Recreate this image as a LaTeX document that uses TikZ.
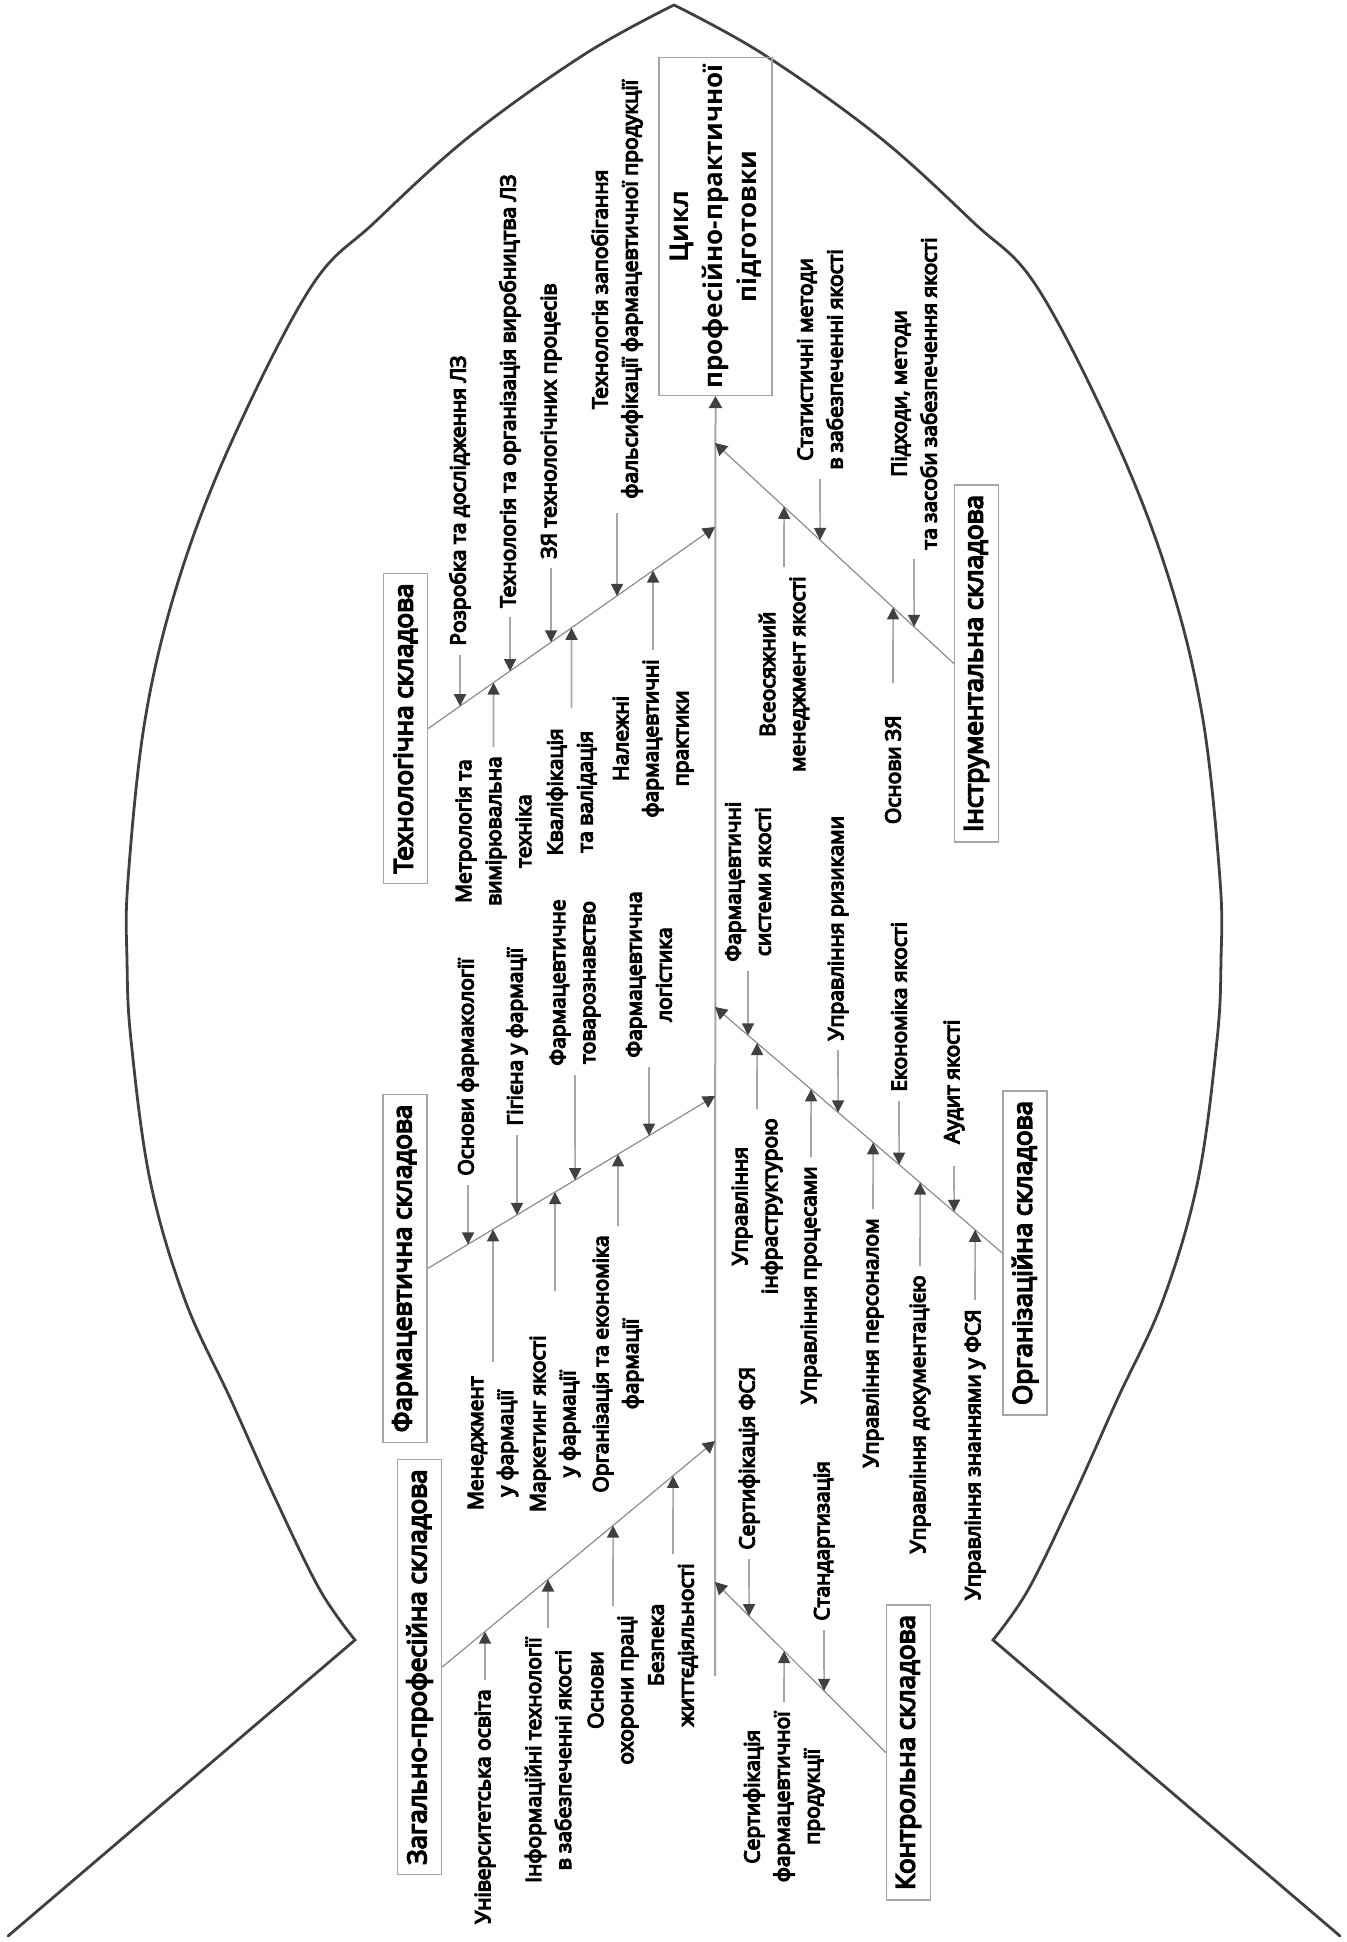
\documentclass[tikz,border=0pt]{standalone}
\usepackage{fontspec}
\setmainfont{Open Sans}
\newfontfamily\lblfont{Open Sans}[FakeBold=6]
\usetikzlibrary{arrows.meta}
\definecolor{outline}{HTML}{404040}
\definecolor{bonegray}{HTML}{8C8C8C}
\definecolor{spinegray}{HTML}{A6A6A6}
\definecolor{tipgray}{HTML}{404040}
\definecolor{framegray}{HTML}{A6A6A6}
\tikzset{
  fish/.style   ={draw=outline, line width=1.4pt, line cap=round, line join=miter},
  spine/.style  ={draw=spinegray, line width=1pt, -{Triangle[length=6pt,width=6.5pt,color=tipgray]}},
  bone/.style   ={draw=bonegray, line width=.6pt, -{Triangle[length=6pt,width=6.5pt,color=tipgray]}},
  sub/.style    ={draw=spinegray, line width=.8pt, -{Triangle[length=6pt,width=6pt,color=tipgray]}},
  lbl/.style    ={rotate=90, align=center, inner xsep=4.5pt, inner ysep=0pt, font=\lblfont\fontsize{10.5}{15}\selectfont},
  cat/.style    ={draw=framegray, line width=.7pt, rotate=90, inner xsep=5pt, minimum height=22pt, font=\lblfont\fontsize{13}{16}\selectfont},
  headbox/.style={draw=framegray, line width=.7pt, rotate=90, align=center, minimum width=159.5pt, minimum height=56.5pt, font=\bfseries\fontsize{13}{17}\selectfont},
}

\begin{document}
\begin{tikzpicture}[x=0.5pt,y=-0.5pt]
  \useasboundingbox (0,0) rectangle (1346,1942);

  % fish outline
  \draw[fish] (8,1936) -- plot[smooth,tension=.6] coordinates {(355,1640) (320,1590) (276,1500) (231,1400) (185,1300) (150,1180) (131,1040) (127,960) (128,880) (145,720) (178,582) (231,443) (311,287) (375,222) (470,136) (585,54) (674,5)};
  \draw[fish] plot[smooth,tension=.6] coordinates {(674,5) (763,54) (878,136) (973,222) (1037,287) (1117,443) (1170,582) (1203,720) (1220,880) (1221,960) (1217,1040) (1198,1180) (1163,1300) (1117,1400) (1072,1500) (1028,1590) (993,1640)} -- (1340,1936);

  % head and spine
  \node[headbox] (head) at (715.5,226.5) {Цикл\\професійно-практичної\\підготовки};
  \coordinate (tail) at (715,1676);
  \draw[spine] (tail) -- (head.west);

  % components
  \node[cat] (tech)  at (405.5,728.5)  {Технологічна складова};
  \node[cat] (instr) at (976.5,663.5)  {Інструментальна складова};
  \node[cat] (pharm) at (405,1268.5)   {Фармацевтична складова};
  \node[cat] (org)   at (1025,1253)    {Організаційна складова};
  \node[cat] (gen)   at (419.5,1667)   {Загально-професійна складова};
  \node[cat] (ctrl)  at (908.5,1752.5) {Контрольна складова};

  \coordinate (techin)  at (715,527);
  \coordinate (instrin) at (715,443);
  \coordinate (pharmin) at (715,1096);
  \coordinate (orgin)   at (715,1007);
  \coordinate (genin)   at (715,1441);
  \coordinate (ctrlin)  at (715,1582);

  \draw[bone] (tech.south)  -- (techin);
  \draw[bone] (instr.north) -- (instrin);
  \draw[bone] (pharm.south) -- (pharmin);
  \draw[bone] (org.north)   -- (orgin);
  \draw[bone] (gen.south)   -- (genin);
  \draw[bone] (ctrl.north)  -- (ctrlin);

  % technological
  \node[lbl,anchor=west] (te1) at (460,655) {Розробка та дослідження ЛЗ};
  \node[lbl,anchor=west] (te2) at (510,617) {Технологія та організація виробництва ЛЗ};
  \node[lbl,anchor=west] (te3) at (551,568) {ЗЯ технологічних процесів};
  \node[lbl,anchor=west,inner xsep=7pt] (te4) at (617,513) {Технологія запобігання\\фальсифікації фармацевтичної продукції};
  \node[lbl,anchor=east] (te5) at (493.5,747) {Метрологія та\\вимірювальна\\техніка};
  \node[lbl,anchor=east,inner xsep=10pt] (te6) at (571.5,708) {Кваліфікація\\та валідація};
  \node[lbl,anchor=east] (te7) at (653,650) {Належні\\фармацевтичні\\практики};
  \draw[sub] (te1.west) -- (intersection of te1.west--te1.center and tech.south--techin);
  \draw[sub] (te2.west) -- (intersection of te2.west--te2.center and tech.south--techin);
  \draw[sub] (te3.west) -- (intersection of te3.west--te3.center and tech.south--techin);
  \draw[sub] (te4.west) -- (intersection of te4.west--te4.center and tech.south--techin);
  \draw[sub] (te5.east) -- (intersection of te5.east--te5.center and tech.south--techin);
  \draw[sub] (te6.east) -- (intersection of te6.east--te6.center and tech.south--techin);
  \draw[sub] (te7.east) -- (intersection of te7.east--te7.center and tech.south--techin);

  % instrumental
  \node[lbl,anchor=west] (in1) at (820,479) {Статистичні методи\\в забезпеченні якості};
  \node[lbl,anchor=west] (in2) at (914,559) {Підходи, методи\\та засоби забезпечення якості};
  \node[lbl,anchor=east] (in3) at (784,567) {Всеосяжний\\менеджмент якості};
  \node[lbl,anchor=east,inner xsep=16pt] (in4) at (893,683) {Основи ЗЯ};
  \draw[sub] (in1.west) -- (intersection of in1.west--in1.center and instr.north--instrin);
  \draw[sub] (in2.west) -- (intersection of in2.west--in2.center and instr.north--instrin);
  \draw[sub] (in3.east) -- (intersection of in3.east--in3.center and instr.north--instrin);
  \draw[sub] (in4.east) -- (intersection of in4.east--in4.center and instr.north--instrin);

  % pharmaceutical
  \node[lbl,anchor=west] (ph1) at (468,1185) {Основи фармакології};
  \node[lbl,anchor=west] (ph2) at (517,1135) {Гігієна у фармації};
  \node[lbl,anchor=west] (ph3) at (575,1075) {Фармацевтичне\\товарознавство};
  \node[lbl,anchor=west] (ph4) at (649,1067) {Фармацевтична\\логістика};
  \node[lbl,anchor=east,inner xsep=7pt] (ph5) at (493,1362) {Менеджмент\\у фармації};
  \node[lbl,anchor=east,inner xsep=22pt] (ph6) at (555,1291) {Маркетинг якості\\у фармації};
  \node[lbl,anchor=east] (ph7) at (618,1226) {Організація та економіка\\фармації};
  \draw[sub] (ph1.west) -- (intersection of ph1.west--ph1.center and pharm.south--pharmin);
  \draw[sub] (ph2.west) -- (intersection of ph2.west--ph2.center and pharm.south--pharmin);
  \draw[sub] (ph3.west) -- (intersection of ph3.west--ph3.center and pharm.south--pharmin);
  \draw[sub] (ph4.west) -- (intersection of ph4.west--ph4.center and pharm.south--pharmin);
  \draw[sub] (ph5.east) -- (intersection of ph5.east--ph5.center and pharm.south--pharmin);
  \draw[sub] (ph6.east) -- (intersection of ph6.east--ph6.center and pharm.south--pharmin);
  \draw[sub] (ph7.east) -- (intersection of ph7.east--ph7.center and pharm.south--pharmin);

  % organisational
  \node[lbl,anchor=west] (or1) at (748,971) {Фармацевтичні\\системи якості};
  \node[lbl,anchor=west] (or2) at (838,1050) {Управління ризиками};
  \node[lbl,anchor=west] (or3) at (899,1101) {Економіка якості};
  \node[lbl,anchor=west,inner xsep=11pt] (or4) at (954,1166) {Аудит якості};
  \node[lbl,anchor=east] (or5) at (757,1109) {Управління\\інфраструктурою};
  \node[lbl,anchor=east] (or6) at (811,1157) {Управління процесами};
  \node[lbl,anchor=east] (or7) at (873,1209) {Управління персоналом};
  \node[lbl,anchor=east] (or8) at (920,1266) {Управління документацією};
  \node[lbl,anchor=east] (or9) at (975,1300) {Управління знаннями у ФСЯ};
  \draw[sub] (or1.west) -- (intersection of or1.west--or1.center and org.north--orgin);
  \draw[sub] (or2.west) -- (intersection of or2.west--or2.center and org.north--orgin);
  \draw[sub] (or3.west) -- (intersection of or3.west--or3.center and org.north--orgin);
  \draw[sub] (or4.west) -- (intersection of or4.west--or4.center and org.north--orgin);
  \draw[sub] (or5.east) -- (intersection of or5.east--or5.center and org.north--orgin);
  \draw[sub] (or6.east) -- (intersection of or6.east--or6.center and org.north--orgin);
  \draw[sub] (or7.east) -- (intersection of or7.east--or7.center and org.north--orgin);
  \draw[sub] (or8.east) -- (intersection of or8.east--or8.center and org.north--orgin);
  \draw[sub] (or9.east) -- (intersection of or9.east--or9.center and org.north--orgin);

  % general professional
  \node[lbl,anchor=east] (ge1) at (485,1680) {Університетська освіта};
  \node[lbl,anchor=east] (ge2) at (548,1628) {Інформаційні технології\\в забезпеченні якості};
  \node[lbl,anchor=east] (ge3) at (613,1606) {Основи\\охорони праці};
  \node[lbl,anchor=east] (ge4) at (673,1554) {Безпека\\життєдіяльності};
  \draw[sub] (ge1.east) -- (intersection of ge1.east--ge1.center and gen.south--genin);
  \draw[sub] (ge2.east) -- (intersection of ge2.east--ge2.center and gen.south--genin);
  \draw[sub] (ge3.east) -- (intersection of ge3.east--ge3.center and gen.south--genin);
  \draw[sub] (ge4.east) -- (intersection of ge4.east--ge4.center and gen.south--genin);

  % control
  \node[lbl,anchor=west] (co1) at (749,1559) {Сертифікація ФСЯ};
  \node[lbl,anchor=west] (co2) at (824,1630) {Стандартизація};
  \node[lbl,anchor=east] (co3) at (784,1702) {Сертифікація\\фармацевтичної\\продукції};
  \draw[sub] (co1.west) -- (intersection of co1.west--co1.center and ctrl.north--ctrlin);
  \draw[sub] (co2.west) -- (intersection of co2.west--co2.center and ctrl.north--ctrlin);
  \draw[sub] (co3.east) -- (intersection of co3.east--co3.center and ctrl.north--ctrlin);
\end{tikzpicture}
\end{document}
